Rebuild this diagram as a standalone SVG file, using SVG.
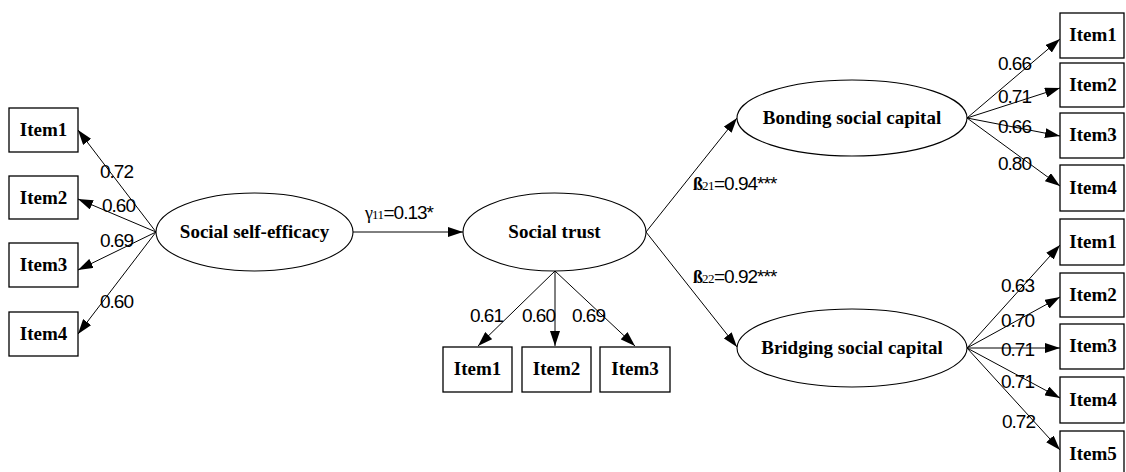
<svg xmlns="http://www.w3.org/2000/svg" width="1126" height="472" viewBox="0 0 1126 472">
<style>
.box{fill:#fff;stroke:#000;stroke-width:1.3}
.ell{fill:#fff;stroke:#000;stroke-width:1.1}
.lbl{font-family:"Liberation Serif",serif;font-weight:bold;font-size:19px;text-anchor:middle;fill:#000}
.big{font-family:"Liberation Serif",serif;font-weight:bold;font-size:19px;text-anchor:middle;fill:#000}
.num{font-family:"Liberation Sans",sans-serif;font-size:19px;letter-spacing:-1px;fill:#000}
.sub{font-family:"Liberation Serif",serif;font-size:13px;letter-spacing:-0.5px}
.gr{font-family:"Liberation Serif",serif;font-size:18px}
.ln{stroke:#000;stroke-width:1;fill:none;marker-end:url(#ah)}
</style>
<defs>
<marker id="ah" markerUnits="userSpaceOnUse" markerWidth="15" markerHeight="10" refX="15" refY="5" orient="auto">
<path d="M0,0 L15,5 L0,10 z" fill="#000"/>
</marker>
</defs>
<rect width="1126" height="472" fill="#fff"/>
<g id="connectors">
<line class="ln" x1="156" y1="232" x2="78" y2="130"/>
<line class="ln" x1="156" y1="232" x2="78" y2="199"/>
<line class="ln" x1="156" y1="232" x2="78" y2="270"/>
<line class="ln" x1="156" y1="232" x2="78" y2="334"/>
<line class="ln" x1="353" y1="232" x2="463" y2="232"/>
<line class="ln" x1="555" y1="271" x2="478" y2="346"/>
<line class="ln" x1="555" y1="271" x2="555" y2="346"/>
<line class="ln" x1="555" y1="271" x2="635" y2="346"/>
<line class="ln" x1="646" y1="232" x2="737" y2="118"/>
<line class="ln" x1="646" y1="232" x2="737" y2="347"/>
<line class="ln" x1="967" y1="118" x2="1060" y2="39"/>
<line class="ln" x1="967" y1="118" x2="1060" y2="88"/>
<line class="ln" x1="967" y1="118" x2="1060" y2="136"/>
<line class="ln" x1="967" y1="118" x2="1060" y2="186"/>
<line class="ln" x1="967" y1="348" x2="1060" y2="245"/>
<line class="ln" x1="967" y1="348" x2="1060" y2="297"/>
<line class="ln" x1="967" y1="348" x2="1060" y2="348"/>
<line class="ln" x1="967" y1="348" x2="1060" y2="398"/>
<line class="ln" x1="967" y1="348" x2="1060" y2="450"/>
<text class="num" x="100" y="178">0.72</text>
<text class="num" x="102" y="212">0.60</text>
<text class="num" x="100" y="247">0.69</text>
<text class="num" x="100" y="308">0.60</text>
<text class="num" x="365" y="219"><tspan class="gr">γ</tspan><tspan class="sub">11</tspan>=0.13*</text>
<text class="num" x="470" y="322">0.61</text>
<text class="num" x="522" y="322">0.60</text>
<text class="num" x="572" y="322">0.69</text>
<text class="num" x="693" y="190"><tspan class="gr" font-weight="bold" font-size="15">ß</tspan><tspan class="sub">21</tspan>=0.94***</text>
<text class="num" x="693" y="283"><tspan class="gr" font-weight="bold" font-size="15">ß</tspan><tspan class="sub">22</tspan>=0.92***</text>
<text class="num" x="998" y="70">0.66</text>
<text class="num" x="998" y="103">0.71</text>
<text class="num" x="998" y="133">0.66</text>
<text class="num" x="998" y="170">0.80</text>
<text class="num" x="1001" y="292">0.63</text>
<text class="num" x="1001" y="327">0.70</text>
<text class="num" x="1001" y="356">0.71</text>
<text class="num" x="1001" y="388">0.71</text>
<text class="num" x="1002" y="428">0.72</text>
</g>
<g id="sse"><ellipse class="ell" cx="254.5" cy="232" rx="98.5" ry="39"/><text class="big" x="254.5" y="238">Social self-efficacy</text></g>
<g id="st"><ellipse class="ell" cx="554.5" cy="232" rx="91.5" ry="39"/><text class="big" x="554.5" y="238">Social trust</text></g>
<g id="bond"><ellipse class="ell" cx="852" cy="118" rx="115" ry="38"/><text class="big" x="852" y="124">Bonding social capital</text></g>
<g id="bridge"><ellipse class="ell" cx="852" cy="348" rx="115" ry="39"/><text class="big" x="852" y="354">Bridging social capital</text></g>
<g id="sse1"><rect class="box" x="9" y="108" width="69" height="44"/><text class="lbl" x="43.5" y="136">Item1</text></g>
<g id="sse2"><rect class="box" x="9" y="176" width="69" height="43"/><text class="lbl" x="43.5" y="204">Item2</text></g>
<g id="sse3"><rect class="box" x="9" y="243" width="69" height="44"/><text class="lbl" x="43.5" y="271">Item3</text></g>
<g id="sse4"><rect class="box" x="9" y="312" width="69" height="44"/><text class="lbl" x="43.5" y="340">Item4</text></g>
<g id="st1"><rect class="box" x="443" y="347" width="69" height="45"/><text class="lbl" x="477.5" y="375">Item1</text></g>
<g id="st2"><rect class="box" x="522" y="347" width="69" height="45"/><text class="lbl" x="556.5" y="375">Item2</text></g>
<g id="st3"><rect class="box" x="600" y="347" width="70" height="45"/><text class="lbl" x="635" y="375">Item3</text></g>
<g id="bo1"><rect class="box" x="1060" y="13" width="64" height="45"/><text class="lbl" x="1093" y="41">Item1</text></g>
<g id="bo2"><rect class="box" x="1060" y="63" width="64" height="44"/><text class="lbl" x="1093" y="91">Item2</text></g>
<g id="bo3"><rect class="box" x="1060" y="113" width="64" height="45"/><text class="lbl" x="1093" y="141">Item3</text></g>
<g id="bo4"><rect class="box" x="1060" y="165" width="64" height="46"/><text class="lbl" x="1093" y="194">Item4</text></g>
<g id="br1"><rect class="box" x="1060" y="219" width="64" height="46"/><text class="lbl" x="1093" y="248">Item1</text></g>
<g id="br2"><rect class="box" x="1060" y="273" width="64" height="44"/><text class="lbl" x="1093" y="301">Item2</text></g>
<g id="br3"><rect class="box" x="1060" y="324" width="64" height="45"/><text class="lbl" x="1093" y="352">Item3</text></g>
<g id="br4"><rect class="box" x="1060" y="377" width="64" height="46"/><text class="lbl" x="1093" y="406">Item4</text></g>
<g id="br5"><rect class="box" x="1060" y="431" width="64" height="46"/><text class="lbl" x="1093" y="460">Item5</text></g>
</svg>
